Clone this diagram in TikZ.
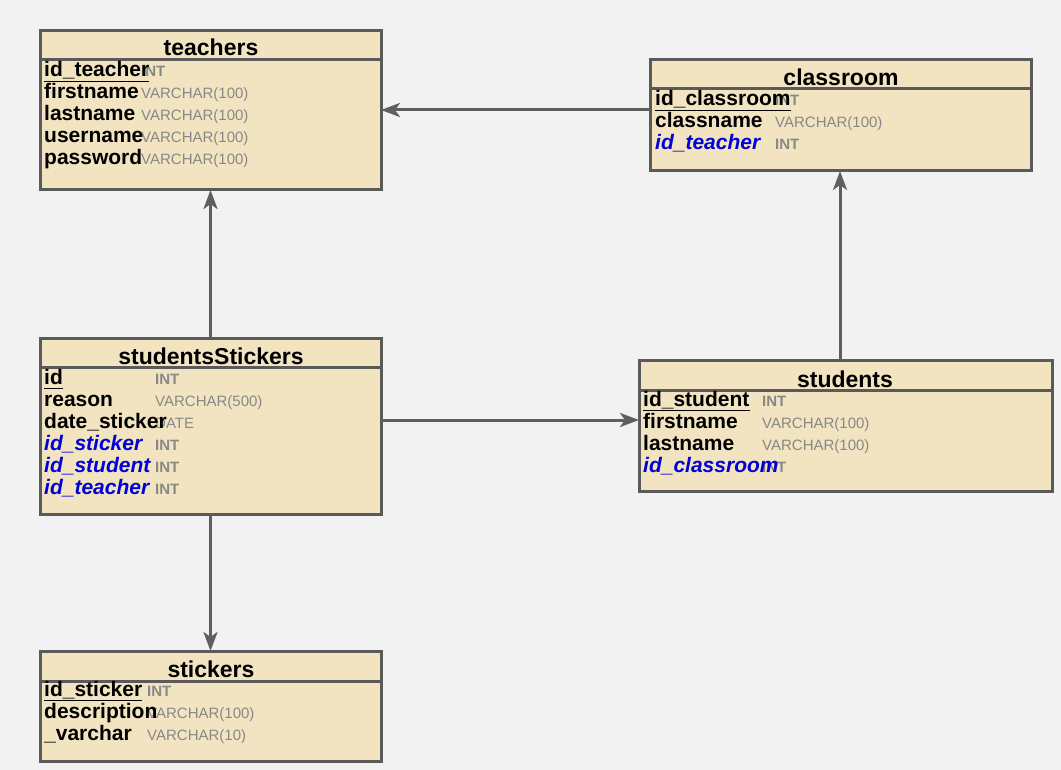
\documentclass[tikz,border=0pt]{standalone}
\usepackage{fontspec}
\setmainfont{Liberation Sans}
\usetikzlibrary{arrows.meta}
\definecolor{bgc}{RGB}{242,242,242}
\definecolor{tblfill}{RGB}{242,228,193}
\definecolor{bordc}{RGB}{90,90,90}
\definecolor{arrc}{RGB}{95,95,95}
\definecolor{typegray}{RGB}{136,136,136}
\definecolor{fkblue}{RGB}{0,0,215}
\tikzset{
  tbl/.style={draw=bordc, fill=tblfill, line width=3pt, rectangle, anchor=north west, inner sep=0pt, outer sep=0pt},
  hline/.style={draw=bordc, line width=3pt},
  ttl/.style={font=\bfseries\fontsize{23}{25}\selectfont, anchor=base, inner sep=0pt},
  fname/.style={font=\bfseries\fontsize{21}{22}\selectfont, anchor=base west, inner sep=0pt},
  fkname/.style={font=\bfseries\itshape\fontsize{21}{22}\selectfont, text=fkblue, anchor=base west, inner sep=0pt},
  ftype/.style={font=\fontsize{15}{17}\selectfont, text=typegray, anchor=base west, inner sep=0pt},
  itype/.style={font=\bfseries\fontsize{15}{17}\selectfont, text=typegray, anchor=base west, inner sep=0pt},
  pkline/.style={draw=black, line width=1.3pt},
  arr/.style={draw=arrc, line width=3pt, -{Stealth[length=19pt,width=14pt,inset=5pt]}}
}
\begin{document}
\begin{tikzpicture}[x=1pt,y=-1pt]
\fill[bgc] (0,0) rectangle (1061,770);
\useasboundingbox (0,0) rectangle (1061,770);

% ---------- teachers
\node[tbl, minimum width=341pt, minimum height=159pt] (teachers) at (40,31) {};
\draw[hline] (teachers.west |- 0,60) -- (teachers.east |- 0,60);
\node[ttl] (teachersT) at (211,56) {teachers};
\node[itype] (tt1) at (141,77) {INT};
\node[ftype] (tt2) at (141,99) {VARCHAR(100)};
\node[ftype] (tt3) at (141,121) {VARCHAR(100)};
\node[ftype] (tt4) at (141,143) {VARCHAR(100)};
\node[ftype] (tt5) at (141,165) {VARCHAR(100)};
\node[fname] (tn1) at (44,77) {id\_teacher};
\node[fname] (tn2) at (44,99) {firstname};
\node[fname] (tn3) at (44,121) {lastname};
\node[fname] (tn4) at (44,143) {username};
\node[fname] (tn5) at (44,165) {password};
\draw[pkline] ([yshift=-4.5pt]tn1.base west) -- ([yshift=-4.5pt]tn1.base east);

% ---------- classroom
\node[tbl, minimum width=381pt, minimum height=111pt] (classroom) at (650,60) {};
\draw[hline] (classroom.west |- 0,89) -- (classroom.east |- 0,89);
\node[ttl] (classroomT) at (841,86) {classroom};
\node[itype] (ct1) at (775,106) {INT};
\node[ftype] (ct2) at (775,128) {VARCHAR(100)};
\node[itype] (ct3) at (775,150) {INT};
\node[fname] (cn1) at (655,106) {id\_classroom};
\node[fname] (cn2) at (655,128) {classname};
\node[fkname] (cn3) at (655,150) {id\_teacher};
\draw[pkline] ([yshift=-4.5pt]cn1.base west) -- ([yshift=-4.5pt]cn1.base east);

% ---------- studentsStickers
\node[tbl, minimum width=341pt, minimum height=176pt] (sst) at (40,338) {};
\draw[hline] (sst.west |- 0,367) -- (sst.east |- 0,367);
\node[ttl] (sstT) at (211,364) {studentsStickers};
\node[itype] (st1) at (155,384) {INT};
\node[ftype] (st2) at (155,406) {VARCHAR(500)};
\node[ftype] (st3) at (155,428) {DATE};
\node[itype] (st4) at (155,450) {INT};
\node[itype] (st5) at (155,472) {INT};
\node[itype] (st6) at (155,494) {INT};
\node[fname] (sn1) at (44,384) {id};
\node[fname] (sn2) at (44,406) {reason};
\node[fname] (sn3) at (44,428) {date\_sticker};
\node[fkname] (sn4) at (44,450) {id\_sticker};
\node[fkname] (sn5) at (44,472) {id\_student};
\node[fkname] (sn6) at (44,494) {id\_teacher};
\draw[pkline] ([yshift=-4.5pt]sn1.base west) -- ([yshift=-4.5pt]sn1.base east);

% ---------- students
\node[tbl, minimum width=413pt, minimum height=131pt] (students) at (639,360) {};
\draw[hline] (students.west |- 0,390) -- (students.east |- 0,390);
\node[ttl] (studentsT) at (845,387) {students};
\node[itype] (ut1) at (762,406) {INT};
\node[ftype] (ut2) at (762,428) {VARCHAR(100)};
\node[ftype] (ut3) at (762,450) {VARCHAR(100)};
\node[itype] (ut4) at (762,472) {INT};
\node[fname] (un1) at (643,406) {id\_student};
\node[fname] (un2) at (643,428) {firstname};
\node[fname] (un3) at (643,450) {lastname};
\node[fkname] (un4) at (643,472) {id\_classroom};
\draw[pkline] ([yshift=-4.5pt]un1.base west) -- ([yshift=-4.5pt]un1.base east);

% ---------- stickers
\node[tbl, minimum width=341pt, minimum height=110pt] (stickers) at (40,651) {};
\draw[hline] (stickers.west |- 0,681) -- (stickers.east |- 0,681);
\node[ttl] (stickersT) at (211,677) {stickers};
\node[itype] (kt1) at (147,696) {INT};
\node[ftype] (kt2) at (147,718) {VARCHAR(100)};
\node[ftype] (kt3) at (147,740) {VARCHAR(10)};
\node[fname] (kn1) at (44,696) {id\_sticker};
\node[fname] (kn2) at (44,718) {description};
\node[fname] (kn3) at (44,740) {\_varchar};
\draw[pkline] ([yshift=-4.5pt]kn1.base west) -- ([yshift=-4.5pt]kn1.base east);

% ---------- connectors
\draw[arr] (classroom.west |- 0,110) -- (teachers.east |- 0,110);
\draw[arr] (sst.north) -- (teachers.south);
\draw[arr] (sst.east |- 0,420) -- (students.west |- 0,420);
\draw[arr] (students.north -| 840,0) -- (classroom.south -| 840,0);
\draw[arr] (sst.south) -- (stickers.north);
\end{tikzpicture}
\end{document}
